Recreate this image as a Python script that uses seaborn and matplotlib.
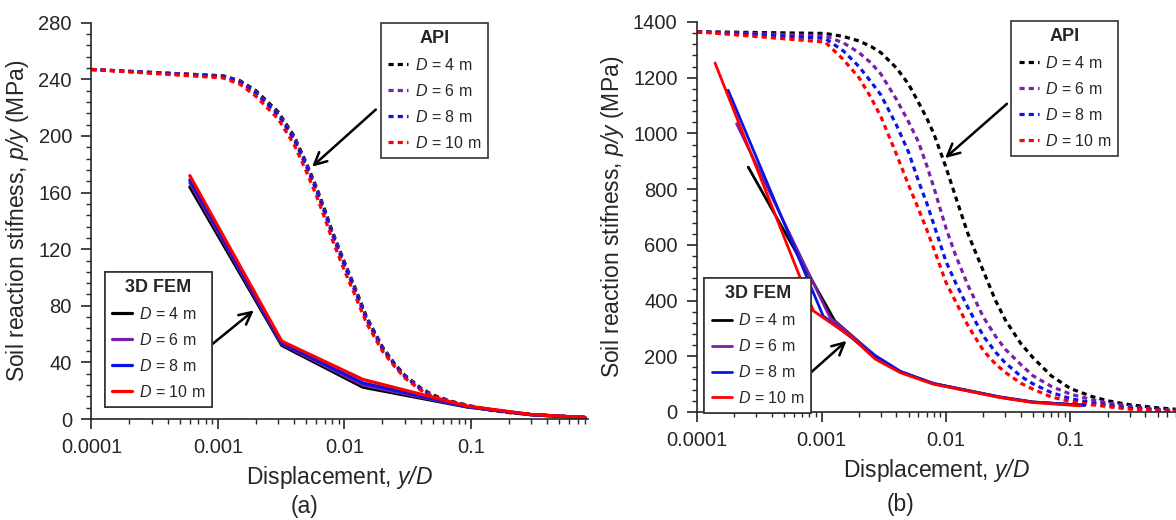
import matplotlib
matplotlib.use("Agg")
import pandas as pd
import seaborn as sns
import matplotlib.pyplot as plt
from matplotlib import font_manager
from matplotlib.ticker import MultipleLocator, LogLocator, NullFormatter

# ---- data ----
legend_labels = ["$\\mathbf{D}$ = 4 m", "$\\mathbf{D}$ = 6 m", "$\\mathbf{D}$ = 8 m", "$\\mathbf{D}$ = 10 m"]
colors = ["#000000", "#7A1FA8", "#0A14E6", "#FF0000"]

# (a) API p-y curves
api_a_x = [0.0001, 0.0011, 0.0015, 0.002, 0.003, 0.004, 0.005, 0.006, 0.007, 0.008, 0.01, 0.012,
           0.015, 0.02, 0.025, 0.03, 0.04, 0.05, 0.07, 0.1, 0.15, 0.2, 0.3, 0.5, 0.8]
api_a_d4 = [247, 242.5, 239, 232, 217, 200, 181, 164, 148, 133, 111, 94,
            72, 51, 39, 31, 22, 17, 12.5, 9.2, 6.3, 4.8, 3.3, 2.0, 1.2]
api_a_d6 = [247, 242.5, 238.5, 231, 216, 199, 180, 163, 147, 132, 110, 93,
            71, 50.5, 38.5, 30.5, 21.5, 16.5, 12.2, 9.0, 6.2, 4.7, 3.2, 2.0, 1.2]
api_a_d8 = [247, 242, 238, 230, 215, 197.5, 178.5, 161.5, 145.5, 130.5, 108.5, 91.5,
            70, 49.5, 38, 30, 21, 16.2, 12, 8.8, 6.1, 4.6, 3.2, 1.9, 1.1]
api_a_d10 = [247, 241, 236.5, 228, 212, 194, 175, 158, 142, 127, 105, 88.5,
             67.5, 48, 37, 29, 20.5, 16, 11.8, 8.7, 6.0, 4.5, 3.1, 1.9, 1.1]

# (a) 3D FEM
fem_a_x = [0.0006, 0.0032, 0.014, 0.093, 0.3, 0.8]
fem_a_d4 = [164, 52, 22.5, 8.5, 3.0, 1.0]
fem_a_d6 = [167, 53, 24, 8.7, 3.0, 1.0]
fem_a_d8 = [169, 53.5, 25.5, 8.8, 3.1, 1.0]
fem_a_d10 = [172, 55, 28, 9.2, 3.2, 1.1]

# (b) API p-y curves
api_b_x = [0.0001, 0.00107, 0.0015, 0.002, 0.0025, 0.003, 0.004, 0.005, 0.006, 0.007, 0.008, 0.01,
           0.012, 0.015, 0.02, 0.025, 0.03, 0.04, 0.05, 0.07, 0.1, 0.15, 0.2, 0.3, 0.5, 0.7]
api_b_d4 = [1365, 1359, 1348, 1332, 1312, 1290, 1235, 1177, 1112, 1055, 998, 878,
            770, 640, 505, 400, 330, 245, 195, 130, 84, 55, 40, 26, 15, 10]
api_b_d6 = [1365, 1350, 1325, 1290, 1253, 1213, 1122, 1042, 970, 885, 805, 660,
            560, 455, 340, 272, 225, 170, 130, 92, 64, 44, 32, 20, 10, 6]
api_b_d8 = [1365, 1341, 1296, 1240, 1185, 1138, 1030, 933, 830, 750, 672, 540,
            462, 375, 272, 215, 176, 128, 101, 70, 48, 33, 24, 13, 7, 4]
api_b_d10 = [1365, 1328, 1265, 1200, 1128, 1060, 925, 815, 730, 655, 585, 465,
             395, 310, 220, 172, 142, 103, 82, 54, 38, 26, 19, 10, 6, 3]

# (b) 3D FEM
fem_b_d4_x = [0.000258, 0.00128, 0.0027, 0.0043, 0.0079, 0.0147, 0.027, 0.05, 0.13]
fem_b_d4 = [879, 327, 201, 145, 102, 78, 54, 36, 24]
fem_b_d6_x = [0.000208, 0.00117, 0.0027, 0.0043, 0.0079, 0.0147, 0.027, 0.05, 0.13]
fem_b_d6 = [1035, 339, 203, 146, 103, 78, 54, 36, 24]
fem_b_d8_x = [0.000178, 0.00103, 0.0027, 0.0043, 0.0079, 0.0147, 0.027, 0.05, 0.13]
fem_b_d8 = [1155, 345, 201, 145, 102, 77, 53, 35, 24]
fem_b_d10_x = [0.0001395, 0.00086, 0.00169, 0.0027, 0.0043, 0.0079, 0.0147, 0.027, 0.05, 0.12]
fem_b_d10 = [1253, 363, 273, 190, 141, 100, 76, 52, 34, 22]

sns.set_style("ticks")
plt.rcParams['font.family'] = ['Liberation Sans', 'DejaVu Sans']

# legend text in the original is a narrow (Calibri-like) face
installed = {f.name for f in font_manager.fontManager.ttflist}
legend_font = 'Liberation Sans Narrow' if 'Liberation Sans Narrow' in installed else 'Liberation Sans'
legend_size = 13 if legend_font == 'Liberation Sans Narrow' else 11.5

plt.rcParams['mathtext.fontset'] = 'custom'
plt.rcParams['mathtext.rm'] = 'Liberation Sans'
plt.rcParams['mathtext.it'] = 'Liberation Sans:italic'
plt.rcParams['mathtext.sf'] = 'Liberation Sans:italic'        # italic incl. the slash
plt.rcParams['mathtext.bf'] = legend_font + ':italic'          # italic D in legends
plt.rcParams['axes.linewidth'] = 1.2

fig = plt.figure(figsize=(11.76, 5.2), dpi=100)
ax_a = fig.add_axes([0.0777, 0.1942, 0.4223, 0.762])
ax_b = fig.add_axes([0.5927, 0.2077, 0.4073, 0.75])

dash = (0, (1.6, 1.3))


def draw_series(ax, x, y, color, style, lw):
    df = pd.DataFrame({'x': x, 'y': y})
    sns.lineplot(data=df, x='x', y='y', ax=ax, color=color, sort=False,
                 estimator=None, lw=lw, linestyle=style)
    return ax.lines[-1]


def style_axes(ax, xmax, ymax, ymajor, yminor):
    ax.set_xscale('log')
    ax.set_xlim(0.0001, xmax)
    ax.set_ylim(0, ymax)
    ax.set_xticks([0.0001, 0.001, 0.01, 0.1])
    ax.set_xticklabels(['0.0001', '0.001', '0.01', '0.1'])
    ax.xaxis.set_minor_locator(LogLocator(base=10, subs=range(2, 10)))
    ax.xaxis.set_minor_formatter(NullFormatter())
    ax.yaxis.set_major_locator(MultipleLocator(ymajor))
    ax.yaxis.set_minor_locator(MultipleLocator(yminor))
    ax.tick_params(which='major', direction='out', length=7, width=1.2, labelsize=14.5)
    ax.tick_params(axis='x', which='major', pad=7)
    ax.tick_params(axis='y', which='major', pad=7)
    ax.tick_params(which='minor', direction='out', length=3.5, width=1.0)
    ax.set_xlabel(r'Displacement, $\mathsf{y/D}$', fontsize=16.5, labelpad=5)
    ax.set_ylabel(r'Soil reaction stifness, $\mathsf{p/y}$ (MPa)', fontsize=16.5, labelpad=5)
    sns.despine(ax=ax)


def add_legend(ax, handles, title, anchor):
    leg = ax.legend(handles, legend_labels, title=title, loc='upper left',
                    bbox_to_anchor=anchor, bbox_transform=fig.transFigure,
                    borderaxespad=0, fancybox=False, framealpha=1, edgecolor='#333333',
                    prop={'family': legend_font, 'size': legend_size},
                    handlelength=1.25, handletextpad=0.4, labelspacing=0.62, borderpad=0.45)
    leg.get_title().set_fontweight('bold')
    leg.get_title().set_fontfamily('Liberation Sans')
    leg.get_title().set_fontsize(13)
    leg.get_frame().set_linewidth(1.2)
    ax.add_artist(leg)
    return leg


# ---- panel (a) ----
api_a = [api_a_d4, api_a_d6, api_a_d8, api_a_d10]
fem_a = [fem_a_d4, fem_a_d6, fem_a_d8, fem_a_d10]
api_a_h = [draw_series(ax_a, api_a_x, y, c, dash, 2.3) for y, c in zip(api_a, colors)]
fem_a_h = [draw_series(ax_a, fem_a_x, y, c, '-', 2.3) for y, c in zip(fem_a, colors)]
style_axes(ax_a, 0.843, 280, 40, 8)
add_legend(ax_a, api_a_h, 'API', (0.324, 0.956))
add_legend(ax_a, fem_a_h, '3D FEM', (0.0893, 0.477))

arrow = dict(arrowstyle='->', lw=1.8, color='black', mutation_scale=22)
ax_a.annotate('', xy=(0.00535, 177), xytext=(0.0184, 220), arrowprops=arrow)
ax_a.annotate('', xy=(0.002, 78), xytext=(0.00085, 51), arrowprops=arrow)

# ---- panel (b) ----
api_b = [api_b_d4, api_b_d6, api_b_d8, api_b_d10]
fem_b_x = [fem_b_d4_x, fem_b_d6_x, fem_b_d8_x, fem_b_d10_x]
fem_b = [fem_b_d4, fem_b_d6, fem_b_d8, fem_b_d10]
api_b_h = [draw_series(ax_b, api_b_x, y, c, dash, 2.3) for y, c in zip(api_b, colors)]
fem_b_h = [draw_series(ax_b, x, y, c, '-', 2.0) for x, y, c in zip(fem_b_x, fem_b, colors)]
style_axes(ax_b, 0.704, 1400, 200, 40)
add_legend(ax_b, api_b_h, 'API', (0.860, 0.96))
add_legend(ax_b, fem_b_h, '3D FEM', (0.599, 0.465))

ax_b.annotate('', xy=(0.00946, 905), xytext=(0.0321, 1113), arrowprops=arrow)
ax_b.annotate('', xy=(0.00165, 262), xytext=(0.00075, 126), arrowprops=arrow)

fig.text(304 / 1176, 1 - 507 / 520, '(a)', ha='center', va='center', fontsize=16.5)
fig.text(900 / 1176, 1 - 505 / 520, '(b)', ha='center', va='center', fontsize=16.5)

fig.savefig('out.png', dpi=100)
